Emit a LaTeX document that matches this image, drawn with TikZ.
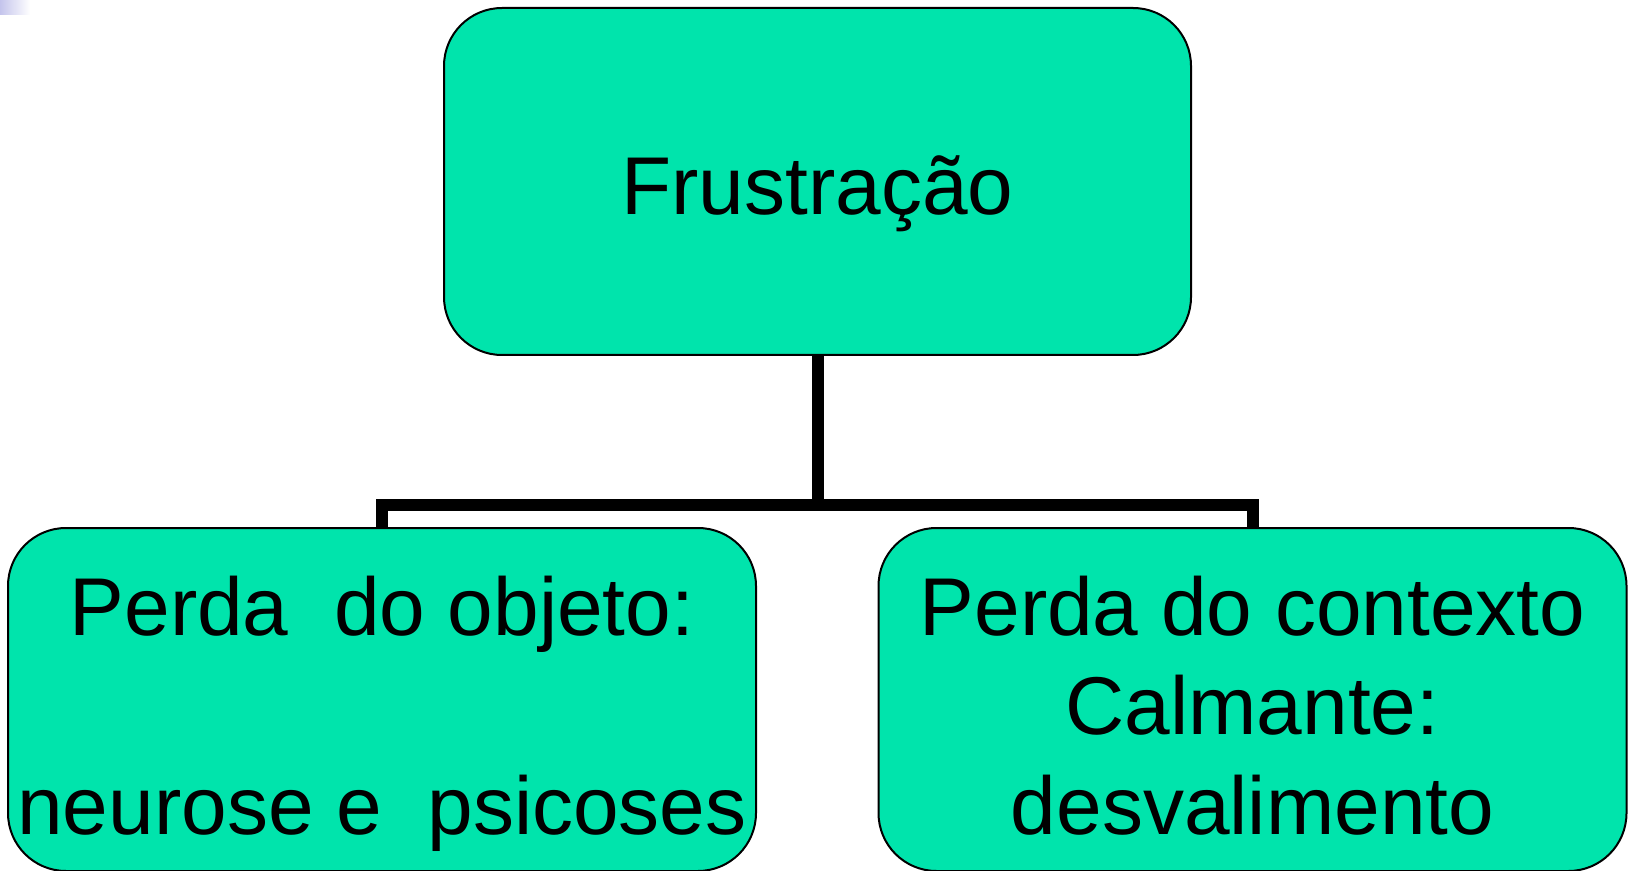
\documentclass[tikz,border=0pt]{standalone}
\usepackage{fontspec}
\setmainfont{Liberation Sans}
\usepackage{tikz}
\usetikzlibrary{positioning}
\definecolor{mint}{RGB}{0,228,172}
\definecolor{slidelav}{RGB}{196,196,236}
\newcommand{\padtop}{\rule{0pt}{44pt}}
\newcommand{\padbot}{\rule[-9pt]{0pt}{9pt}}
\tikzset{
	box/.style={draw,fill=mint,line width=1pt,rounded corners=29pt,
		inner sep=0pt,align=center,
		font=\fontsize{41pt}{49.75pt}\selectfont},
	top box/.style={box,minimum width=373.5pt,minimum height=173.5pt,
		text height=42.5pt,text depth=9pt},
	low box/.style={box,minimum width=374pt,minimum height=171.5pt},
	link/.style={line width=6pt,line join=miter}
}
\begin{document}
\begin{tikzpicture}[x=0.5pt,y=-0.5pt,node distance=85.5pt]
	\useasboundingbox (0,0) rectangle (1633,871);
	\shade[left color=slidelav,right color=white] (0,0) rectangle (30,15);
	\node [top box] (frust) at (817.5,181.5) {Frustração};
	\node [low box, below=of frust, xshift=-217.75pt] (objeto) {\padtop Perda\ \ do objeto:\\[49.75pt] neurose e\ \ psicoses\padbot};
	\node [low box, below=of frust, xshift=217.5pt] (contexto) {\padtop Perda do contexto\\ Calmante:\\ desvalimento\padbot};
	\coordinate [below=74.25pt of frust.south] (fork);
	\draw [link] (frust.south) -- (fork);
	\draw [link] (objeto.north) |- (fork) -| (contexto.north);
\end{tikzpicture}
\end{document}
